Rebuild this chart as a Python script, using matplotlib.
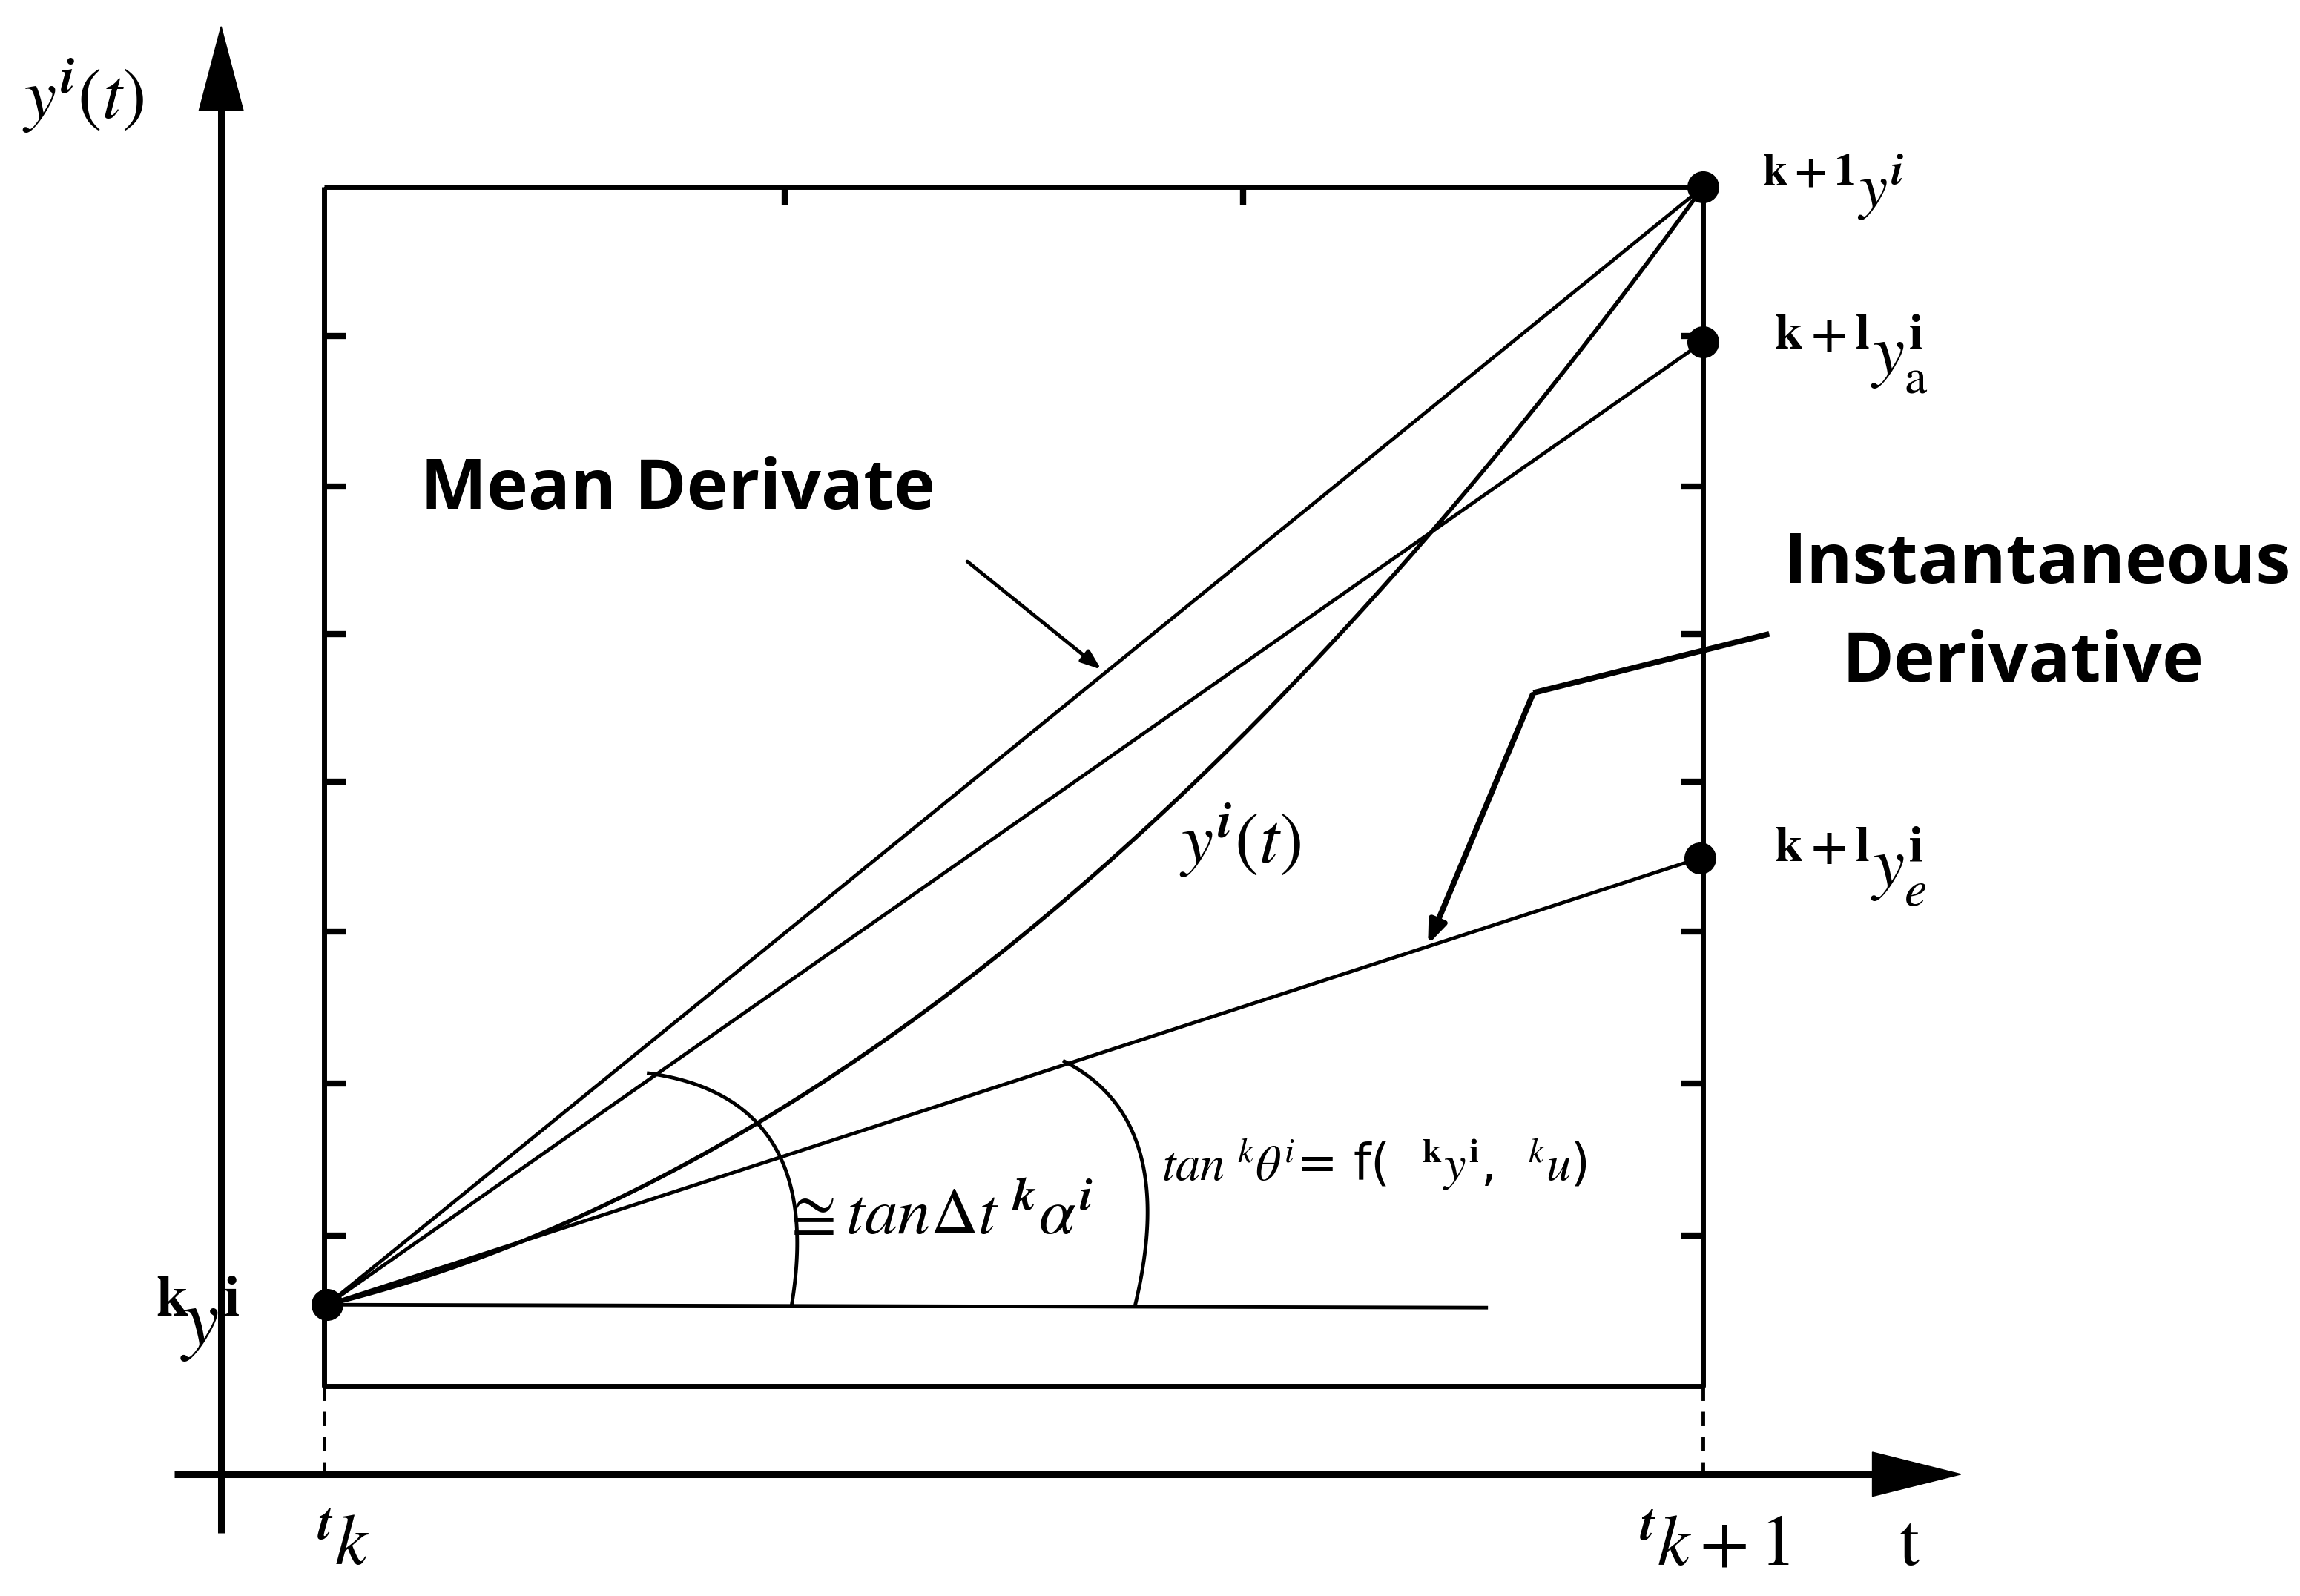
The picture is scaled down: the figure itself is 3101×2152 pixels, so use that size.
import numpy as np
import matplotlib.pyplot as plt

plt.rcParams['mathtext.fontset'] = 'stix'

# diagram geometry (reference pixel units, half scale)
W = 1560
H = W * 2152 / 3101
box_x = [220, 1155]
box_y = [127, 940]
tick_y = [228, 330, 430, 530, 632, 735, 838]
tick_top_x = [532, 843]
start = (222, 885)
end_pts = {'y': (1155, 127), 'ya': (1155, 232), 'ye': (1153, 582)}
horiz_end = (1008, 887)
curve_ctrl = [(222, 885), (690, 770), (1155, 127)]
arc1 = [(440, 728), (560, 745), (537, 885)]
arc2 = [(722, 720), (800, 760), (770, 885)]

fig = plt.figure(figsize=(31.01, 21.52), dpi=100)
ax = fig.add_axes([0, 0, 1, 1])
ax.set_xlim(0, W)
ax.set_ylim(H, 0)
ax.axis('off')

lw = 5
k = dict(color='black', solid_capstyle='butt')

# box
ax.plot([box_x[0], box_x[1], box_x[1], box_x[0], box_x[0]],
        [box_y[0], box_y[0], box_y[1], box_y[1], box_y[0]], lw=lw, **k)
for ty in tick_y:
    ax.plot([box_x[0], box_x[0] + 15], [ty, ty], lw=6, **k)
    ax.plot([box_x[1] - 15, box_x[1]], [ty, ty], lw=6, **k)
for tx in tick_top_x:
    ax.plot([tx, tx], [box_y[0], box_y[0] + 12], lw=6, **k)

# axes arrows
ax.plot([150, 150], [1040, 70], lw=6.5, **k)
ax.fill([135, 165, 150], [75, 75, 18], color='black')
ax.plot([118, 1275], [1000, 1000], lw=6.5, **k)
ax.fill([1270, 1270, 1330], [985, 1015, 1000], color='black')
for bx in box_x:
    ax.plot([bx, bx], [box_y[1], 1000], lw=3.5, ls=(0, (4, 3)), color='black')

# lines from start
for p in end_pts.values():
    ax.plot([start[0], p[0]], [start[1], p[1]], lw=3.5, color='black')
ax.plot([start[0], horiz_end[0]], [start[1], horiz_end[1]], lw=3.5, color='black')


def bez(pts):
    t = np.linspace(0, 1, 100)[:, None]
    p = np.array(pts, float)
    q = (1 - t) ** 2 * p[0] + 2 * (1 - t) * t * p[1] + t ** 2 * p[2]
    return q[:, 0], q[:, 1]


# curve y(t)
ax.plot(*bez(curve_ctrl), lw=4, color='black')
for a in (arc1, arc2):
    ax.plot(*bez(a), lw=3.5, color='black')

# points
for p in [start] + list(end_pts.values()):
    ax.plot(p[0], p[1], 'o', ms=30, color='black')

# annotation arrows
ax.annotate('', xy=(748, 455), xytext=(655, 380),
            arrowprops=dict(arrowstyle='-|>,head_length=1.6,head_width=0.6', lw=3.5, color='black'))
ax.plot([1200, 1040], [430, 470], lw=5.5, **k)
ax.annotate('', xy=(968, 642), xytext=(1040, 470),
            arrowprops=dict(arrowstyle='-|>,head_length=1.8,head_width=0.7', lw=5.5, color='black'))

# texts
bold = dict(family='Open Sans', fontweight='bold', fontsize=68)
ax.text(285, 333, 'Mean Derivate', ha='left', va='center', **bold)
ax.text(1382, 383, 'Instantaneous', ha='center', va='center', **bold)
ax.text(1372, 450, 'Derivative', ha='center', va='center', **bold)

m = dict(fontsize=70, va='center')
ax.text(15, 65, r'$y^{\boldsymbol{i}}(t)$', ha='left', **m)
ax.text(1195, 127, r'$^{\mathbf{k+1}}y^{\boldsymbol{i}}$', ha='left', fontsize=62, va='center')
ax.text(1203, 240, r'$^{\mathbf{k+l}}y_{\mathrm{a}}^{\mathbf{i}}$', ha='left', **m)
ax.text(1203, 588, r'$^{\mathbf{k+l}}y_{e}^{\mathbf{i}}$', ha='left', **m)
ax.text(105, 895, r'$^{\mathbf{k}}\!y^{\mathbf{i}}$', ha='left', fontsize=80, va='center')
ax.text(800, 570, r'$y^{\boldsymbol{i}}(t)$', ha='left', **m)
ax.text(530, 825, r'$\cong tan\Delta t\ ^{\boldsymbol{k}}\alpha^{\boldsymbol{i}}$', ha='left', fontsize=64, va='center')
ax.text(788, 790, r'$tan\ ^{k}\theta^{i}$= f(  $^{\mathbf{k}}y^{\mathbf{i}}$,  $^{k}u$)',
        ha='left', fontsize=48, va='center')
ax.text(215, 1048, r'$^{\boldsymbol{t}}k$', ha='left', **m)
ax.text(1112, 1048, r'$^{\boldsymbol{t}}k+1$', ha='left', **m)
ax.text(1288, 1048, r'$\mathrm{t}$', ha='left', **m)

fig.savefig('out.png', dpi=100)
